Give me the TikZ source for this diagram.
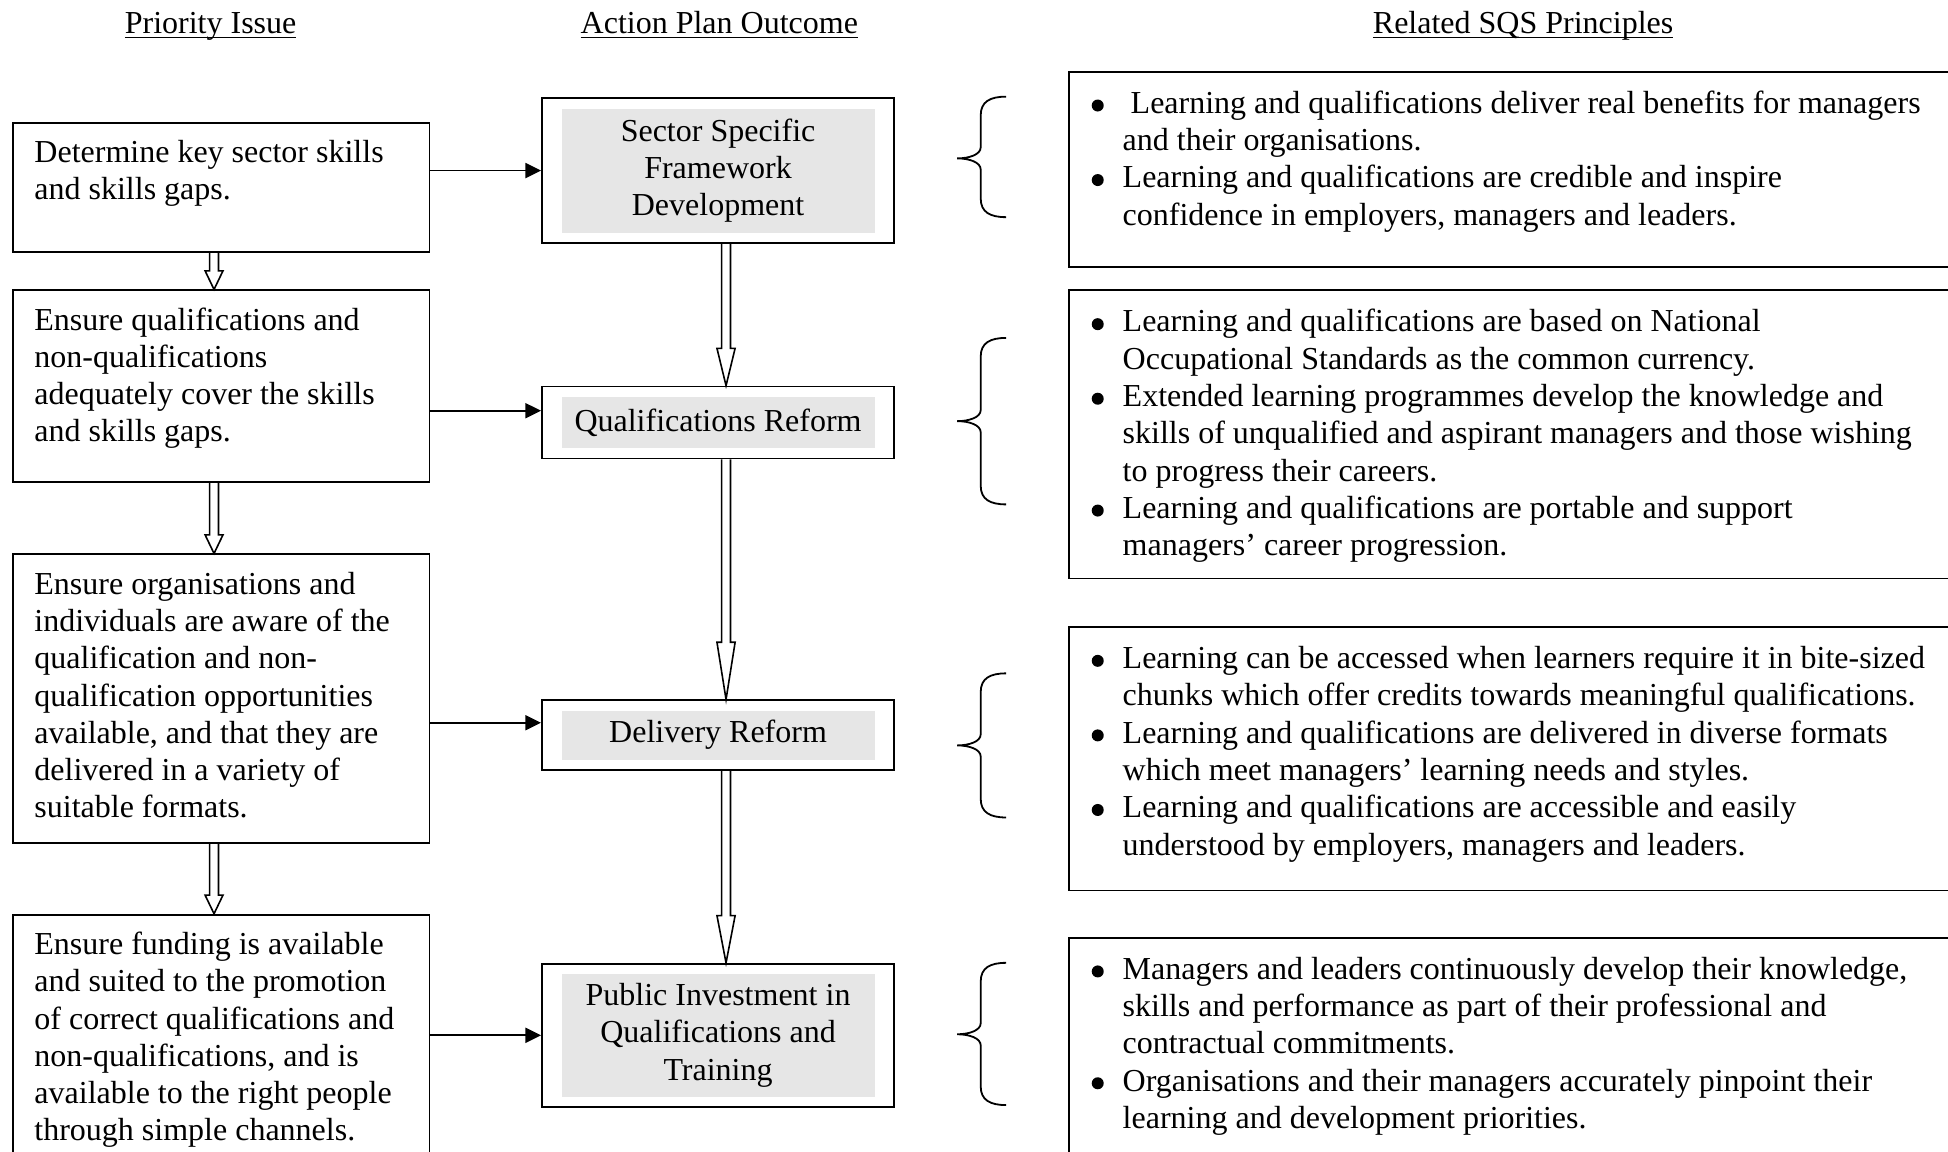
\documentclass[tikz,border=0pt]{standalone}
\usepackage{fontspec}
\setmainfont{Liberation Serif}
\usetikzlibrary{arrows.meta,calc}
\definecolor{boxgray}{RGB}{230,230,230}
\newcommand\bodyfont{\fontsize{16pt}{18.64pt}\selectfont}
\newcommand\ulhead[1]{\setbox0\hbox{#1}\rlap{\rule[-2.4pt]{\wd0}{0.75pt}}\box0}
\newcommand\bul{\makebox[15.5pt][l]{\tikz[baseline=0pt,x=1pt,y=1pt]\fill (3,3.9) circle[radius=3];}}
\newcommand\ind{\hspace*{15.5pt}}
\newcommand\ltext[2]{\parbox[c][#1][t]{187pt}{\raggedright\vspace*{6.85pt}\strut #2}}
\newcommand\rtext[2]{\parbox[c][#1][t]{440pt}{\raggedright\vspace*{7.75pt}\strut #2}}
\newcommand\hollowdown[5]{%
  \draw[hollow] ($([xshift=#3]#1)+(-3.6,0)$) -- ($([xshift=#3]#2)+(-3.6,-#4)$)
    -- ($([xshift=#3]#2)+(-#5,-#4)$) -- ([xshift=#3]#2) -- ($([xshift=#3]#2)+(#5,-#4)$)
    -- ($([xshift=#3]#2)+(3.6,-#4)$) -- ($([xshift=#3]#1)+(3.6,0)$);}
\newcommand\sqsbrace[3]{%
  \draw[brace] (809.8,#1) .. controls (797,#1) and (789.4,#1+4) .. (789.4,#1+15)
    -- (789.4,#2-9) .. controls (789.4,#2-3) and (780,#2) .. (770.5,#2)
    .. controls (780,#2) and (789.4,#2+3) .. (789.4,#2+9)
    -- (789.4,#3-15) .. controls (789.4,#3-4) and (797,#3) .. (809.8,#3);}
\begin{document}
\begin{tikzpicture}[x=0.6212pt, y=-0.6212pt, line join=miter,
  every node/.style={font=\bodyfont, text=black},
  lbox/.style={draw, line width=0.9pt, anchor=north west, inner xsep=10.56pt, inner ysep=0pt, fill=white},
  rbox/.style={draw, line width=0.9pt, anchor=north west, inner xsep=11.2pt, inner ysep=0pt, fill=white},
  mbox/.style={draw, line width=0.9pt, anchor=north west, fill=white, align=center,
    minimum width=176.1pt, inner sep=0pt,
    path picture={\fill[boxgray] ([xshift=9.8pt,yshift=-5.3pt]path picture bounding box.north west)
      rectangle ([xshift=-9.8pt,yshift=5.2pt]path picture bounding box.south east);}},
  harrow/.style={line width=0.9pt, -{Triangle[length=7.8pt,width=7.5pt]}},
  hollow/.style={line width=0.8pt},
  brace/.style={line width=0.9pt}
]
\useasboundingbox (0,0) rectangle (1568,927);
\clip (0,0) rectangle (1568,927);
\fill[white] (0,0) rectangle (1568,927);

% headers
\node[anchor=base] (h1) at (169.5,27) {\ulhead{Priority Issue}};
\node[anchor=base] (h2) at (579,27) {\ulhead{Action Plan Outcome}};
\node[anchor=base] (h3) at (1226,27) {\ulhead{Related SQS Principles}};

% left column
\node[lbox] (L1) at (10,98) {\ltext{64.6pt}{Determine key sector skills\\and skills gaps.}};
\node[lbox] (L2) at (10,233) {\ltext{95.7pt}{Ensure qualifications and\\non-qualifications\\adequately cover the skills\\and skills gaps.}};
\node[lbox] (L3) at (10,445.5) {\ltext{144.4pt}{Ensure organisations and\\individuals are aware of the\\qualification and non-\\qualification opportunities\\available, and that they are\\delivered in a variety of\\suitable formats.}};
\node[lbox] (L4) at (10,735.5) {\ltext{149pt}{Ensure funding is available\\and suited to the promotion\\of correct qualifications and\\non-qualifications, and is\\available to the right people\\through simple channels.}};

% middle column
\node[mbox, minimum height=72.4pt] (M1) at (435.5,78.3) {Sector Specific\\Framework\\Development};
\node[mbox, minimum height=36pt] (M2) at (435.5,310.4) {Qualifications Reform};
\node[mbox, minimum height=34.8pt] (M3) at (435.5,563) {Delivery Reform};
\node[mbox, minimum height=71.6pt] (M4) at (435.5,775) {Public Investment in\\Qualifications and\\Training};

% right column
\node[rbox] (R1) at (860,57) {\rtext{97.5pt}{\bul\ Learning and qualifications deliver real benefits for managers\\
\ind and their organisations.\\
\bul Learning and qualifications are credible and inspire\\
\ind confidence in employers, managers and leaders.}};
\node[rbox] (R2) at (860,233) {\rtext{144.1pt}{\bul Learning and qualifications are based on National\\
\ind Occupational Standards as the common currency.\\
\bul Extended learning programmes develop the knowledge and\\
\ind skills of unqualified and aspirant managers and those wishing\\
\ind to progress their careers.\\
\bul Learning and qualifications are portable and support\\
\ind managers’ career progression.}};
\node[rbox] (R3) at (860,504) {\rtext{131.7pt}{\bul Learning can be accessed when learners require it in bite-sized\\
\ind chunks which offer credits towards meaningful qualifications.\\
\bul Learning and qualifications are delivered in diverse formats\\
\ind which meet managers’ learning needs and styles.\\
\bul Learning and qualifications are accessible and easily\\
\ind understood by employers, managers and leaders.}};
\node[rbox] (R4) at (860,754) {\rtext{155pt}{\bul Managers and leaders continuously develop their knowledge,\\
\ind skills and performance as part of their professional and\\
\ind contractual commitments.\\
\bul Organisations and their managers accurately pinpoint their\\
\ind learning and development priorities.}};

% horizontal arrows
\coordinate (a2) at ([yshift=5.9pt]M2.west);
\coordinate (a3) at ([yshift=6.2pt]M3.west);
\draw[harrow] (L1.east |- M1.west) -- (M1.west);
\draw[harrow] (L2.east |- a2) -- (a2);
\draw[harrow] (L3.east |- a3) -- (a3);
\draw[harrow] (L4.east |- M4.west) -- (M4.west);

% hollow arrows
\hollowdown{L1.south}{L2.north}{-3.7pt}{15}{7.2}
\hollowdown{L2.south}{L3.north}{-3.7pt}{15}{7.2}
\hollowdown{L3.south}{L4.north}{-3.7pt}{15}{7.2}
\hollowdown{M1.south}{M2.north}{4pt}{30}{7.3}
\hollowdown{M2.south}{M3.north}{4pt}{46}{7.3}
\hollowdown{M3.south}{M4.north}{4pt}{38}{7.3}

% braces
\sqsbrace{77.8}{127.5}{174.8}
\sqsbrace{272}{339}{406}
\sqsbrace{542}{600}{658}
\sqsbrace{775}{832.5}{889.5}
\end{tikzpicture}
\end{document}
